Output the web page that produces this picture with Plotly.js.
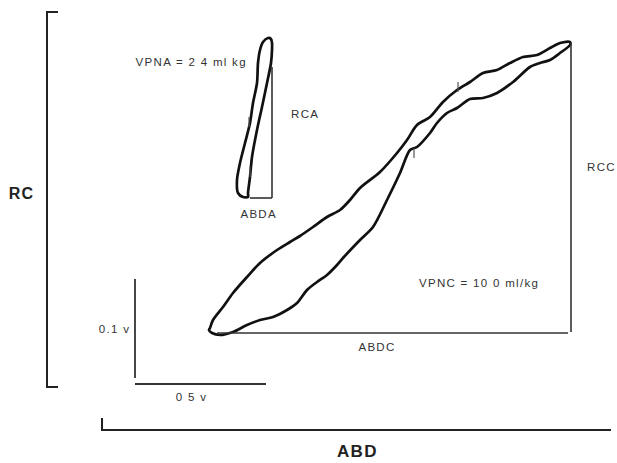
<!DOCTYPE html>
<html>
<head>
<meta charset="utf-8">
<script src="https://cdn.plot.ly/plotly-3.0.1.min.js"></script>
<style>
html,body{margin:0;padding:0;background:#fff;}
#chart{width:617px;height:463px;}
#chart .annotation-text{letter-spacing:1.3px;}
</style>
</head>
<body>
<div id="chart"></div>
<script>
// Loop C (VPNC = 10.0 ml/kg): ABD (x) vs RC (y) (figure units)
const loopC_abd = [210,213,223,233,247,260,277,290,300,313,327,340,350,360,380,397,407,417,430,443,457,470,483,497,510,523,537,550,560,570,
                   570,560,550,540,530,513,497,483,470,457,447,437,430,417,410,400,387,373,360,343,337,327,317,307,297,287,273,260,247,233,220,212,209,210];
const loopC_rc  = [328,320,307,293,277,263,250,242,236,227,217,210,200,188,172,153,140,125,117,102,90,82,73,70,63,57,55,48,43,42,
                   45,53,60,63,67,82,93,98,99,108,113,123,133,147,150,173,200,227,240,258,265,275,282,290,303,310,317,320,325,332,335,333,330,328];
// Loop A (VPNA = 2.4 ml/kg)
const loopA_abd = [248,243,238,237,240,245,250,253,257,258,260,263,268,271,272,272,271,267,262,257,252,250,248,248];
const loopA_rc  = [197,197,193,180,163,143,123,103,83,63,50,42,38,39,43,50,63,83,107,130,157,177,193,197];
// Component reference lines (RC and ABD excursions)
const refC_abd = [217,568,null,571,571];
const refC_rc  = [333,333,null,332,43];
const refA_abd = [250,272,null,272,272];
const refA_rc  = [198,198,null,198,67];
// Calibration bars: 0.1 v (RC) and 0.5 v (ABD)
const cal_abd = [135,135,null,135,266];
const cal_rc  = [279,378,null,384,384];
// Direction marks on loops
const mark_abd = [458,414,249,250];
const mark_rc  = [87,153,122,172];

const labels = [
  {text:'VPNA = 2 4 ml kg', x:191, y:62},
  {text:'RCA', x:305, y:114},
  {text:'ABDA', x:259, y:214},
  {text:'VPNC = 10 0 ml/kg', x:479, y:283},
  {text:'ABDC', x:377, y:347},
  {text:'RCC', x:601, y:167},
  {text:'0.1 v', x:114, y:329}
];

const ink = '#111';
const traces = [
  {x:loopC_abd, y:loopC_rc, mode:'lines', line:{color:ink, width:2.7, shape:'spline', smoothing:0.8}, hoverinfo:'skip'},
  {x:loopA_abd, y:loopA_rc, mode:'lines', line:{color:ink, width:2.7, shape:'spline', smoothing:0.8}, hoverinfo:'skip'},
  {x:refC_abd, y:refC_rc, mode:'lines', line:{color:'#333', width:1.6}, hoverinfo:'skip'},
  {x:refA_abd, y:refA_rc, mode:'lines', line:{color:'#333', width:1.6}, hoverinfo:'skip'},
  {x:cal_abd, y:cal_rc, mode:'lines', line:{color:'#333', width:1.8}, hoverinfo:'skip'},
  {x:mark_abd, y:mark_rc, mode:'markers', marker:{symbol:'line-ns', size:7, line:{color:'#555', width:1.2}}, hoverinfo:'skip', cliponaxis:false}
];

const W = 617, H = 463;
const fam = '"Liberation Sans", Arial, sans-serif';
const txt = {family:fam, size:11.5, color:'#333'};
const annotations = labels.map(l => ({text:l.text, x:l.x, y:l.y, xref:'x', yref:'y', showarrow:false, font:txt, xanchor:'center', yanchor:'middle'}));
annotations.push({text:'0 5 v', x:191/W, y:1-397/H, xref:'paper', yref:'paper', showarrow:false, xanchor:'center', yanchor:'middle', font:txt});
annotations.push({text:'<b>RC</b>', x:22/W, y:1-193/H, xref:'paper', yref:'paper', showarrow:false, xanchor:'center', yanchor:'middle',
  font:{family:fam, size:16, color:'#222'}});
annotations.push({text:'<b>ABD</b>', x:357/W, y:1-451/H, xref:'paper', yref:'paper', showarrow:false, xanchor:'center', yanchor:'middle',
  font:{family:fam, size:17, color:'#222'}});

// end ticks of the RC and ABD bracket axes
const brk = {color:'#222', width:2};
const shapes = [
  {type:'line', xref:'paper', yref:'paper', x0:47/W, x1:58/W, y0:1-12/H, y1:1-12/H, line:brk},
  {type:'line', xref:'paper', yref:'paper', x0:47/W, x1:58/W, y0:1-387/H, y1:1-387/H, line:brk},
  {type:'line', xref:'paper', yref:'paper', x0:102/W, x1:102/W, y0:1-430/H, y1:1-418/H, line:brk}
];

const layout = {
  width:W, height:H, margin:{l:0,r:0,t:0,b:0}, showlegend:false,
  paper_bgcolor:'#fff', plot_bgcolor:'rgba(0,0,0,0)',
  xaxis:{domain:[101/W, 611/W], range:[101,611], anchor:'free', position:1-430/H,
    showline:true, linecolor:'#222', linewidth:2, ticks:'', showticklabels:false, showgrid:false, zeroline:false, fixedrange:true},
  yaxis:{domain:[1-388/H, 1-11/H], range:[388,11], anchor:'free', position:47/W,
    showline:true, linecolor:'#222', linewidth:2, ticks:'', showticklabels:false, showgrid:false, zeroline:false, fixedrange:true},
  annotations:annotations,
  shapes:shapes
};

Plotly.newPlot('chart', traces, layout, {staticPlot:true, displayModeBar:false});
</script>
</body>
</html>
